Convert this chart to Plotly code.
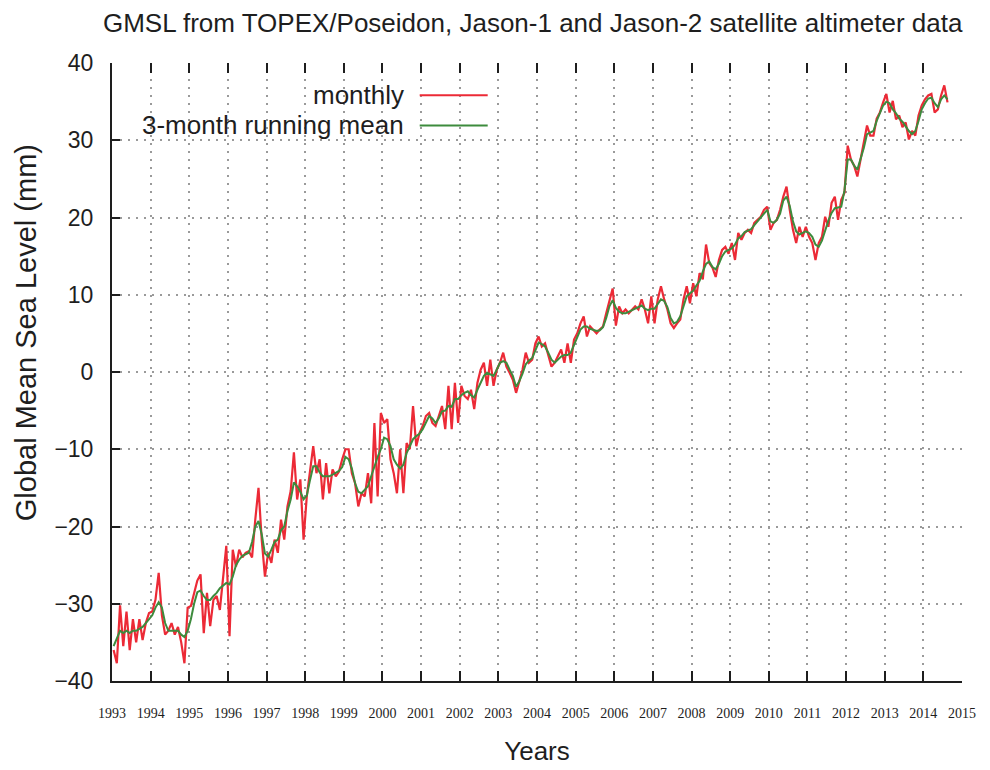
import plotly.graph_objects as go

start_year = 1993

# Monthly GMSL (mm), Jan 1993 onward
monthly_mm = [
    -36.0, -37.7, -30.2, -35.5, -31.0, -36.0, -32.0, -35.0, -32.0, -34.7, -32.5, -31.2,  # 1993
    -31.0, -29.5, -26.0, -31.5, -34.0, -33.5, -32.5, -34.0, -33.0, -35.0, -37.7, -30.5,  # 1994
    -30.3, -28.5, -27.0, -26.2, -33.8, -28.6, -32.9, -29.5, -29.0, -30.8, -26.9, -22.5,  # 1995
    -34.2, -23.0, -25.2, -23.0, -24.0, -23.4, -23.2, -24.0, -19.1, -15.0, -21.7, -26.5,  # 1996
    -23.4, -24.7, -21.7, -23.4, -19.1, -21.7, -17.4, -15.4, -10.4, -16.5, -13.9, -21.7,  # 1997
    -16.1, -13.1, -9.6, -13.1, -11.3, -16.5, -11.8, -15.7, -12.6, -13.5, -12.9, -11.3,   # 1998
    -10.0, -10.0, -13.1, -14.4, -17.4, -15.7, -16.1, -13.1, -17.0, -6.6, -16.1, -5.3,    # 1999
    -6.6, -6.1, -11.3, -13.1, -15.7, -10.0, -15.7, -9.2, -10.0, -4.4, -9.6, -7.9,        # 2000
    -7.0, -5.7, -5.3, -6.6, -7.0, -5.7, -4.4, -7.4, -1.8, -7.4, -1.4, -6.6,              # 2001
    -1.8, -3.1, -3.5, -2.3, -4.8, -1.4, 0.3, 1.2, -1.8, 1.6, -1.8, 0.3,                  # 2002
    1.2, 2.5, 0.7, -0.1, -1.0, -2.7, -1.0, 0.3, 2.5, 1.2, 1.6, 3.7,                      # 2003
    4.6, 3.3, 3.7, 2.0, 0.7, 1.2, 2.0, 2.9, 1.2, 3.7, 1.2, 4.2,                          # 2004
    5.0, 6.3, 7.2, 4.6, 5.9, 5.5, 5.0, 5.5, 5.9, 7.6, 9.4, 10.8,                         # 2005
    6.0, 8.5, 7.6, 8.1, 7.6, 8.1, 8.5, 8.1, 9.4, 8.1, 6.3, 9.8,                          # 2006
    6.3, 9.4, 11.1, 9.4, 8.1, 6.3, 5.7, 6.3, 6.8, 9.4, 11.1, 8.9,                        # 2007
    11.5, 9.8, 12.8, 12.0, 16.5, 14.1, 13.5, 12.3, 14.5, 15.8, 16.2, 15.3,               # 2008
    16.7, 14.5, 18.0, 17.1, 18.0, 18.4, 18.0, 19.3, 19.7, 20.1, 21.0, 21.4,              # 2009
    18.4, 19.3, 19.7, 21.0, 22.7, 24.0, 21.0, 18.4, 16.7, 18.8, 17.5, 18.8,              # 2010
    17.5, 16.7, 14.5, 16.7, 17.5, 20.1, 18.8, 21.9, 22.7, 19.7, 22.3, 23.2,              # 2011
    29.3, 27.5, 26.7, 25.3, 27.5, 29.7, 31.9, 30.6, 30.6, 32.8, 33.6, 34.9,              # 2012
    36.0, 33.6, 35.1, 32.7, 33.2, 31.7, 32.3, 30.1, 31.2, 30.6, 33.2, 34.5,              # 2013
    35.3, 35.8, 36.0, 33.6, 34.0, 35.8, 37.1, 34.9,                                      # 2014
]

# 3-month running mean (mm)
running_mean_mm = [
    -35.5, -34.5, -33.5, -33.8, -33.5, -33.8, -33.5, -33.5, -33.2, -33.0, -32.5, -32.0,  # 1993
    -31.5, -30.5, -29.8, -30.5, -32.5, -33.5, -33.5, -33.5, -33.5, -34.0, -34.3, -33.5,  # 1994
    -32.0, -30.0, -28.5, -28.3, -29.0, -29.5, -29.5, -29.0, -28.6, -28.0, -27.7, -27.3,  # 1995
    -27.5, -26.5, -25.0, -24.3, -23.8, -23.6, -23.4, -22.0, -20.0, -19.3, -21.0, -23.5,  # 1996
    -23.9, -23.0, -22.0, -21.7, -20.5, -20.0, -18.0, -16.5, -14.3, -14.8, -15.5, -16.5,  # 1997
    -16.0, -14.0, -12.2, -12.2, -13.0, -13.5, -13.5, -13.5, -13.3, -13.0, -12.8, -12.3,  # 1998
    -11.0, -11.3, -12.5, -14.4, -15.5, -15.7, -15.2, -14.8, -13.5, -12.2, -11.0, -10.0,  # 1999
    -8.5, -8.7, -9.6, -11.3, -12.0, -12.5, -12.0, -10.5, -9.5, -8.7, -8.3, -8.0,         # 2000
    -7.4, -6.5, -5.7, -6.0, -6.6, -6.0, -5.1, -5.0, -4.4, -4.5, -3.5, -3.5,              # 2001
    -3.0, -2.7, -2.5, -3.0, -3.3, -2.3, -1.4, -0.5, -0.1, -0.3, -0.5, 0.3,               # 2002
    1.2, 1.4, 1.2, 0.3, -0.5, -1.9, -1.2, -0.2, 1.0, 1.5, 1.8, 2.8,                      # 2003
    3.8, 3.6, 3.3, 2.5, 1.6, 1.2, 1.6, 2.0, 2.2, 2.2, 2.5, 3.5,                          # 2004
    4.5, 5.5, 5.9, 5.9, 5.6, 5.4, 5.3, 5.4, 5.8, 7.0, 8.5, 9.3,                          # 2005
    8.3, 7.8, 7.6, 7.6, 7.8, 8.0, 8.3, 8.5, 8.6, 8.2, 8.0, 8.2,                          # 2006
    8.2, 8.8, 9.4, 9.2, 8.4, 7.0, 6.3, 6.5, 7.2, 8.5, 9.8, 10.2,                         # 2007
    10.5, 11.2, 11.8, 13.0, 14.0, 14.3, 13.6, 13.3, 14.0, 15.0, 15.6, 15.8,              # 2008
    16.0, 16.5, 17.3, 17.6, 18.1, 18.3, 18.5, 19.0, 19.5, 20.0, 20.6, 21.0,              # 2009
    19.5, 19.3, 19.7, 20.5, 22.2, 22.7, 21.5, 19.5, 18.2, 17.8, 18.0, 18.2,              # 2010
    18.0, 17.5, 16.5, 16.2, 17.0, 18.4, 19.6, 20.6, 21.2, 21.3, 21.4, 23.5,              # 2011
    27.5, 27.5, 26.7, 26.2, 27.5, 29.0, 30.8, 31.0, 31.2, 32.5, 33.4, 34.5,              # 2012
    35.0, 34.8, 34.0, 33.5, 32.8, 32.4, 31.8, 31.2, 30.8, 31.2, 32.5, 34.0,              # 2013
    34.8, 35.4, 35.5, 34.8, 34.3, 35.3, 35.8, 35.3,                                      # 2014
]

year_ticks = list(range(1993, 2016))
y_ticks = [-40, -30, -20, -10, 0, 10, 20, 30, 40]

t_monthly = [start_year + (i + 0.5) / 12 for i in range(len(monthly_mm))]
t_mean = [start_year + (i + 0.5) / 12 for i in range(len(running_mean_mm))]

RED = "#ec2a36"
GREEN = "#3d8b3d"
INK = "#1e1e1e"
GRID = "#9a9a9a"
SANS = "Liberation Sans, Arial, sans-serif"
SERIF = "Liberation Serif, Times New Roman, serif"

fig = go.Figure()
fig.add_trace(go.Scatter(x=t_monthly, y=monthly_mm, mode="lines", name="monthly",
                         line=dict(color=RED, width=2.2), showlegend=False))
fig.add_trace(go.Scatter(x=t_mean, y=running_mean_mm, mode="lines", name="3-month running mean",
                         line=dict(color=GREEN, width=2), showlegend=False, xaxis="x2"))

fig.update_layout(
    width=990, height=770,
    margin=dict(l=104, r=36, t=55, b=97, autoexpand=False),
    paper_bgcolor="white", plot_bgcolor="white",
    title=dict(text="GMSL from TOPEX/Poseidon, Jason-1 and Jason-2 satellite altimeter data",
               x=0.530, xref="container", xanchor="center",
               y=0.981, yref="container", yanchor="middle",
               font=dict(family=SANS, size=26, color=INK)),
    xaxis=dict(range=[1993, 2015], tickmode="array", tickvals=year_ticks,
               ticktext=[str(y) for y in year_ticks], automargin=False,
               ticks="inside", ticklen=10, tickwidth=2, tickcolor=INK,
               showline=True, linecolor=INK, linewidth=2,
               showgrid=True, gridcolor=GRID, gridwidth=1.5, griddash="2px,6px",
               zeroline=False, tickfont=dict(family=SERIF, size=14, color=INK),
               ticklabelstandoff=18,
               title=dict(text="Years", font=dict(family=SANS, size=26, color=INK), standoff=22)),
    xaxis2=dict(range=[1993, 2015], overlaying="x", side="top", anchor="y", matches="x",
                tickmode="array", tickvals=year_ticks, ticks="inside", ticklen=10, tickwidth=2,
                tickcolor=INK, showticklabels=False, showgrid=False, showline=False, zeroline=False,
                automargin=False),
    yaxis=dict(range=[-40, 40], tickmode="array", tickvals=y_ticks, automargin=False,
               ticks="inside", ticklen=8, tickwidth=2, tickcolor=INK,
               showline=True, linecolor=INK, linewidth=2,
               showgrid=True, gridcolor=GRID, gridwidth=1.5, griddash="2px,6px",
               zeroline=False, tickfont=dict(family=SANS, size=23, color=INK),
               ticklabelstandoff=12),
)

# Y-axis title placed like the reference (slightly above the plot's centre)
fig.add_annotation(text="Global Mean Sea Level (mm)", xref="paper", yref="paper",
                   x=-0.101, y=0.563, xanchor="center", yanchor="middle", textangle=-90,
                   showarrow=False, font=dict(family=SANS, size=29, color=INK))

# Legend drawn to match the reference (labels left, line samples right)
legend_items = [("monthly", RED, 0.948), ("3-month running mean", GREEN, 0.899)]
for label, color, ypos in legend_items:
    fig.add_annotation(text=label, xref="paper", yref="paper", x=0.346, y=ypos,
                       xanchor="right", yanchor="middle", showarrow=False,
                       font=dict(family=SANS, size=26, color=INK))
    fig.add_shape(type="line", xref="paper", yref="paper", x0=0.362, x1=0.442,
                  y0=ypos, y1=ypos, line=dict(color=color, width=2))

fig.write_html("out.html")
